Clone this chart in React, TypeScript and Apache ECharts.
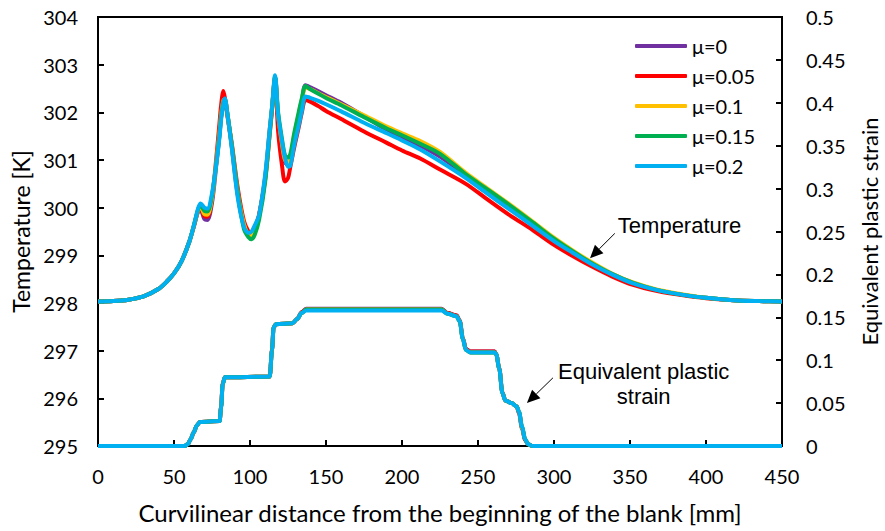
import React, { useEffect, useRef } from "react";
import * as echarts from "echarts";

const muLabels = ["μ=0", "μ=0.05", "μ=0.1", "μ=0.15", "μ=0.2"];
const colors = ["#7030A0", "#FF0000", "#FFC000", "#00B050", "#00B0F0"];

const xTicksMin = 0;
const xTicksMax = 450;
const xTickStep = 50;
const tempMin = 295;
const tempMax = 304;
const tempStep = 1;
const strainMin = 0;
const strainMax = 0.5;
const strainStep = 0.05;

// Temperature [K] vs curvilinear distance [mm]
const tempX = [0,10,20,30,40, 45,50,55,60,63, 66,67.5,70,72,75, 78,80,81,82.5,83.5, 85,88,92,96,99, 101,103,106,110,113, 114.5,116.5,118.5,121,123, 125,126.5,129,132,134, 136.5,140,145,150,160, 175,190,200,212,225, 242,255,270,286,300, 312,324,338,352,368, 385,400,418,435,450];

const tempMu0 = [298.03,298.04,298.07,298.14,298.30, 298.44,298.62,298.88,299.28,299.60, 299.93,299.95,299.76,299.74,300.10, 300.95,301.55,301.90,302.18,302.25, 302.00,301.28,300.25,299.62,299.45, 299.45,299.58,299.85,300.65,301.65, 302.10,302.72,301.90,301.30,300.95, 300.90,301.00,301.45,301.90,302.20, 302.57,302.52,302.44,302.36,302.20, 301.92,301.63,301.47,301.30,301.07, 300.68,300.38,300.03,299.66,299.33, 299.08,298.85,298.61,298.42,298.27, 298.17,298.11,298.06,298.04,298.03];
const tempMu005 = [298.03,298.04,298.07,298.14,298.30, 298.44,298.62,298.88,299.28,299.60, 299.95,299.98,299.82,299.81,300.20, 301.10,301.80,302.15,302.45,302.30, 301.95,301.35,300.40,299.72,299.50, 299.46,299.52,299.85,300.60,301.55, 302.05,302.72,301.60,300.90,300.55, 300.62,300.85,301.25,301.68,301.98, 302.26,302.22,302.13,302.03,301.86, 301.60,301.36,301.20,301.03,300.80, 300.50,300.20,299.86,299.53,299.22, 298.99,298.78,298.56,298.38,298.25, 298.16,298.10,298.06,298.04,298.03];
const tempMu01 = [298.03,298.04,298.07,298.14,298.30, 298.44,298.62,298.88,299.28,299.61, 299.96,300.02,299.86,299.85,300.20, 301.00,301.60,301.95,302.25,302.27, 302.00,301.30,300.30,299.65,299.42, 299.40,299.50,299.80,300.60,301.62, 302.10,302.74,301.95,301.35,301.00, 300.95,301.05,301.50,301.95,302.25, 302.52,302.48,302.40,302.32,302.17, 301.94,301.70,301.56,301.40,301.17, 300.73,300.43,300.09,299.71,299.37, 299.11,298.87,298.62,298.43,298.28, 298.18,298.11,298.06,298.04,298.03];
const tempMu015 = [298.03,298.04,298.07,298.14,298.30, 298.44,298.62,298.88,299.28,299.62, 299.98,300.05,299.93,299.92,300.25, 300.98,301.55,301.90,302.22,302.27, 302.00,301.32,300.30,299.55,299.38, 299.34,299.42,299.75,300.55,301.58, 302.08,302.75,302.00,301.45,301.10, 301.05,301.12,301.55,302.00,302.28, 302.55,302.48,302.39,302.30,302.15, 301.90,301.66,301.52,301.34,301.13, 300.70,300.41,300.07,299.69,299.35, 299.09,298.85,298.61,298.42,298.27, 298.17,298.11,298.06,298.04,298.03];
const tempMu02 = [298.03,298.04,298.07,298.14,298.30, 298.44,298.62,298.88,299.28,299.62, 300.00,300.09,300.00,299.98,300.30, 300.95,301.50,301.85,302.20,302.29, 302.00,301.25,300.20,299.60,299.47, 299.50,299.62,299.85,300.70,301.65, 302.12,302.78,301.95,301.40,301.05, 300.86,300.88,301.30,301.72,302.01, 302.33,302.30,302.24,302.17,302.02, 301.78,301.56,301.41,301.22,300.97, 300.62,300.32,299.98,299.62,299.30, 299.06,298.83,298.60,298.41,298.27, 298.17,298.11,298.06,298.04,298.03];

// Equivalent plastic strain vs curvilinear distance [mm]
const strainX = [0,57,59,61,63, 65,67,80,81,82, 83.5,113,114.5,115.5,117, 128,131,134,137,150, 200,226,230,236,238, 240,242,245,261,262, 264,266,268,272,275.5, 277,279,281,283,286, 450];

const strainMu0 = [0,0,0.002,0.008,0.016, 0.024,0.028,0.029,0.045,0.072, 0.080,0.081,0.112,0.138,0.142, 0.143,0.148,0.156,0.160,0.160, 0.160,0.160,0.155,0.152,0.146, 0.126,0.113,0.110,0.110,0.107, 0.090,0.062,0.053,0.050,0.046, 0.038,0.020,0.007,0.002,0, 0];
const strainMu005 = [0,0,0.002,0.008,0.016, 0.024,0.028,0.029,0.046,0.073, 0.080,0.081,0.113,0.138,0.142, 0.143,0.148,0.156,0.159,0.159, 0.159,0.159,0.155,0.152,0.146, 0.126,0.113,0.110,0.110,0.107, 0.091,0.063,0.053,0.050,0.046, 0.039,0.021,0.007,0.002,0, 0];
const strainMu01 = [0,0,0.002,0.008,0.016, 0.024,0.028,0.029,0.045,0.072, 0.080,0.081,0.112,0.138,0.142, 0.143,0.148,0.155,0.159,0.159, 0.159,0.159,0.154,0.151,0.145, 0.125,0.112,0.109,0.109,0.107, 0.090,0.062,0.053,0.050,0.046, 0.040,0.021,0.008,0.002,0, 0];
const strainMu015 = [0,0,0.002,0.008,0.016, 0.024,0.028,0.029,0.045,0.072, 0.080,0.081,0.112,0.138,0.142, 0.143,0.148,0.155,0.159,0.159, 0.159,0.159,0.154,0.151,0.145, 0.125,0.112,0.109,0.109,0.107, 0.090,0.062,0.053,0.050,0.046, 0.040,0.022,0.008,0.002,0, 0];
const strainMu02 = [0,0,0.002,0.008,0.016, 0.024,0.028,0.029,0.045,0.072, 0.080,0.081,0.112,0.138,0.142, 0.143,0.148,0.155,0.158,0.158, 0.158,0.158,0.154,0.151,0.145, 0.125,0.112,0.109,0.109,0.107, 0.090,0.062,0.053,0.050,0.046, 0.040,0.022,0.008,0.002,0, 0];

const tempSeries = [tempMu0, tempMu005, tempMu01, tempMu015, tempMu02];
const strainSeries = [strainMu0, strainMu005, strainMu01, strainMu015, strainMu02];

// Annotation anchor points (data coordinates: distance, temperature)
const tempArrowTail = [340, 299.46];
const tempArrowTip = [323.7, 298.94];
const tempLabelPos = [342, 299.62];
const strainArrowTail = [299.3, 296.43];
const strainArrowTip = [282.2, 295.9];
const strainLabelPos = [359, 296.3];

const axisFont = "Lato, 'Open Sans', sans-serif";
const annoFont = "'Liberation Sans', Arial, sans-serif";

export default function App() {
  const ref = useRef<HTMLDivElement>(null);
  useEffect(() => {
    const chart = echarts.init(ref.current!, null, { renderer: "svg" });
    const series: any[] = [];
    tempSeries.forEach((vals, i) => {
      series.push({
        name: muLabels[i],
        type: "line",
        xAxisIndex: 0,
        yAxisIndex: 0,
        data: tempX.map((x, j) => [x, vals[j]]),
        symbol: "none",
        smooth: 0.3,
        lineStyle: { width: 4, color: colors[i] },
        itemStyle: { color: colors[i] },
        z: 2 + i,
      });
    });
    strainSeries.forEach((vals, i) => {
      series.push({
        name: muLabels[i],
        type: "line",
        xAxisIndex: 0,
        yAxisIndex: 1,
        data: strainX.map((x, j) => [x, vals[j]]),
        symbol: "none",
        smooth: 0.3,
        smoothMonotone: "x",
        lineStyle: { width: 4, color: colors[i] },
        itemStyle: { color: colors[i] },
        z: 2 + i,
      });
    });

    const axisCommon = {
      axisLine: { show: true, lineStyle: { color: "#000", width: 2 } },
      axisTick: { show: true, inside: true, length: 6, lineStyle: { color: "#000", width: 2 } },
      splitLine: { show: false },
      axisLabel: { color: "#000", fontSize: 20, fontFamily: axisFont },
      nameTextStyle: { color: "#000", fontSize: 23, fontFamily: axisFont },
    };

    chart.setOption({
      animation: false,
      backgroundColor: "#fff",
      grid: {
        left: 98,
        right: 103,
        top: 17,
        bottom: 85,
        containLabel: false,
        outerBoundsMode: "none",
        show: true,
        borderColor: "#000",
        borderWidth: 2,
        backgroundColor: "transparent",
      },
      legend: {
        data: muLabels,
        orient: "vertical",
        left: 630,
        top: 31,
        icon: "roundRect",
        itemWidth: 52,
        itemHeight: 4,
        itemGap: 10,
        textStyle: { color: "#000", fontSize: 20, fontFamily: axisFont },
      },
      xAxis: {
        type: "value",
        min: xTicksMin,
        max: xTicksMax,
        interval: xTickStep,
        name: "Curvilinear distance from the beginning of the blank [mm]",
        nameLocation: "middle",
        nameGap: 54,
        ...axisCommon,
        axisLabel: { ...axisCommon.axisLabel, margin: 20 },
        nameTextStyle: { ...axisCommon.nameTextStyle, fontSize: 24 },
      },
      yAxis: [
        {
          type: "value",
          position: "left",
          min: tempMin,
          max: tempMax,
          interval: tempStep,
          name: "Temperature [K]",
          nameLocation: "middle",
          nameRotate: 90,
          nameGap: 62,
          ...axisCommon,
          axisLabel: { ...axisCommon.axisLabel, margin: 20 },
        },
        {
          type: "value",
          position: "right",
          min: strainMin,
          max: strainMax,
          interval: strainStep,
          name: "Equivalent plastic strain",
          nameLocation: "middle",
          nameRotate: 90,
          nameGap: 76,
          ...axisCommon,
          axisLabel: { ...axisCommon.axisLabel, margin: 24 },
          nameTextStyle: { ...axisCommon.nameTextStyle, fontSize: 22 },
        },
      ],
      series,
    });

    const px = (p: number[]) => chart.convertToPixel({ xAxisIndex: 0, yAxisIndex: 0 }, p) as number[];
    const arrow = (tail: number[], tip: number[]) => {
      const a = px(tail);
      const b = px(tip);
      const dx = b[0] - a[0];
      const dy = b[1] - a[1];
      const len = Math.sqrt(dx * dx + dy * dy);
      const ux = dx / len;
      const uy = dy / len;
      const hl = 13;
      const hw = 6;
      const bx = b[0] - ux * hl;
      const by = b[1] - uy * hl;
      return [
        {
          type: "line",
          shape: { x1: a[0], y1: a[1], x2: bx, y2: by },
          style: { stroke: "#000", lineWidth: 1 },
          z: 20,
        },
        {
          type: "polygon",
          shape: {
            points: [
              [b[0], b[1]],
              [bx - uy * hw, by + ux * hw],
              [bx + uy * hw, by - ux * hw],
            ],
          },
          style: { fill: "#000" },
          z: 20,
        },
      ];
    };
    const tl = px(tempLabelPos);
    const sl = px(strainLabelPos);
    chart.setOption({
      graphic: [
        ...arrow(tempArrowTail, tempArrowTip),
        ...arrow(strainArrowTail, strainArrowTip),
        {
          type: "text",
          x: tl[0],
          y: tl[1],
          style: {
            text: "Temperature",
            font: `22px ${annoFont}`,
            fill: "#000",
            textAlign: "left",
            textVerticalAlign: "middle",
          },
          z: 20,
        },
        {
          type: "text",
          x: sl[0],
          y: sl[1],
          style: {
            text: "Equivalent plastic\nstrain",
            font: `22px ${annoFont}`,
            fill: "#000",
            textAlign: "center",
            textVerticalAlign: "middle",
            lineHeight: 25,
          },
          z: 20,
        },
      ],
    });

    return () => chart.dispose();
  }, []);
  return <div ref={ref} style={{ position: "absolute", left: 0, top: 0, width: 885, height: 531 }} />;
}
